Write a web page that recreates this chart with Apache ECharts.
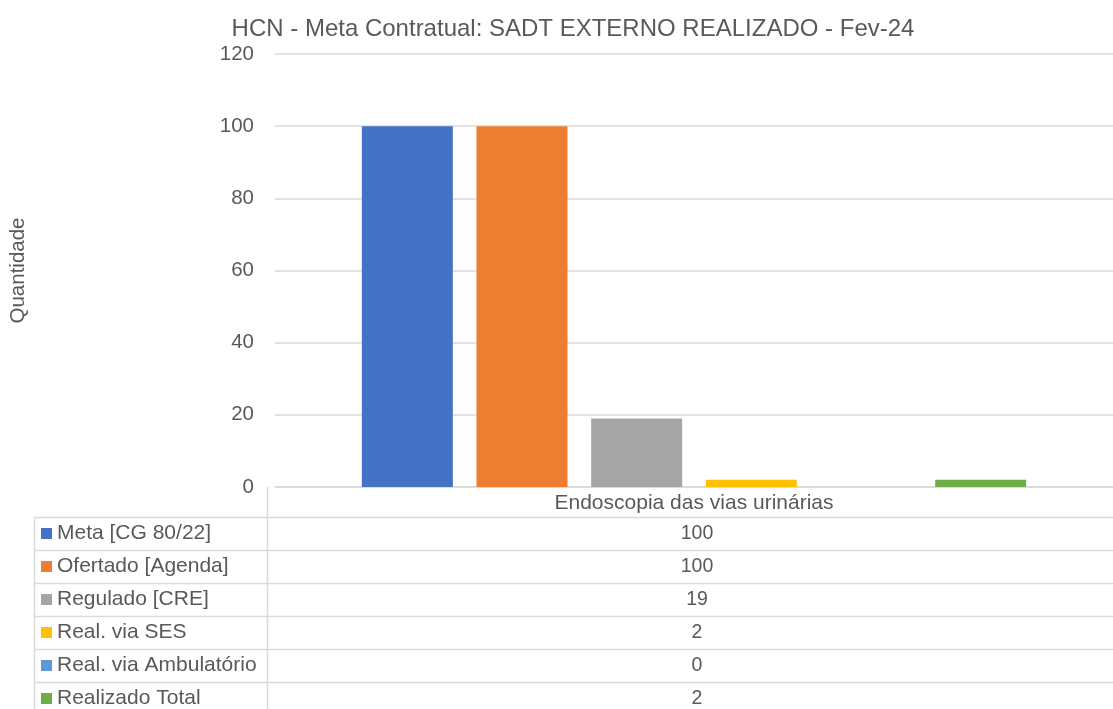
<!DOCTYPE html>
<html>
<head>
<meta charset="utf-8">
<script src="https://cdn.jsdelivr.net/npm/echarts@6/dist/echarts.min.js"></script>
<style>
  html, body { margin: 0; padding: 0; background: #fff; }
  #chart { width: 1113px; height: 709px; }
</style>
</head>
<body>
<div id="chart"></div>
<script>
// dados do gráfico
const categories = ['Endoscopia das vias urinárias'];
const seriesNames = ['Meta [CG 80/22]', 'Ofertado [Agenda]', 'Regulado [CRE]', 'Real. via SES', 'Real. via Ambulatório', 'Realizado Total'];
const meta = [100];
const ofertado = [100];
const regulado = [19];
const realSES = [2];
const realAmbulatorio = [0];
const realizadoTotal = [2];
const colors = ['#4472C4', '#ED7D31', '#A5A5A5', '#FFC000', '#5B9BD5', '#70AD47'];

const allValues = [meta, ofertado, regulado, realSES, realAmbulatorio, realizadoTotal];

const FONT = '"Liberation Sans", Arial, sans-serif';
const TXT = '#595959';
const LINE = '#d9d9d9';

// layout da tabela (abaixo do eixo)
const plotLeft = 268, plotRight = 1134, axisY = 487;
const tableLeft = 34, headerBottom = 517, rowH = 33;

const chart = echarts.init(document.getElementById('chart'));

function buildTable() {
  var els = [];
  var bottom = headerBottom + rowH * seriesNames.length;
  // linhas horizontais
  for (var i = 0; i <= seriesNames.length; i++) {
    var y = headerBottom + rowH * i + 0.5;
    els.push({ type: 'line', shape: { x1: tableLeft, y1: y, x2: plotRight, y2: y }, style: { stroke: LINE, lineWidth: 1.5 }, silent: true });
  }
  // linhas verticais
  els.push({ type: 'line', shape: { x1: tableLeft + 0.5, y1: headerBottom, x2: tableLeft + 0.5, y2: bottom }, style: { stroke: LINE, lineWidth: 1.5 } });
  els.push({ type: 'line', shape: { x1: plotLeft - 0.5, y1: axisY, x2: plotLeft - 0.5, y2: bottom }, style: { stroke: LINE, lineWidth: 1.5 } });

  var cx = 697;
  seriesNames.forEach(function (name, i) {
    var cy = headerBottom + rowH * i + rowH / 2;
    els.push({ type: 'rect', shape: { x: 41, y: cy - 5.5, width: 11, height: 11 }, style: { fill: colors[i] } });
    els.push({ type: 'text', x: 57, y: cy, style: { text: name, font: '21px ' + FONT, fill: TXT, verticalAlign: 'middle', align: 'left' } });
    els.push({ type: 'text', x: cx, y: cy, style: { text: String(allValues[i][0]), font: '19.5px ' + FONT, fill: TXT, verticalAlign: 'middle', align: 'center' } });
  });
  return els;
}

var option = {
  animation: false,
  title: {
    text: 'HCN - Meta Contratual: SADT EXTERNO REALIZADO - Fev-24',
    left: 568, top: 12, textAlign: 'center',
    textStyle: { fontFamily: FONT, fontSize: 24, fontWeight: 'normal', color: TXT }
  },
  grid: { left: plotLeft, top: 54, width: plotRight - plotLeft, height: axisY - 54, containLabel: false },
  xAxis: {
    type: 'category',
    data: categories,
    axisLine: { lineStyle: { color: LINE, width: 1.5 } },
    axisTick: { show: false },
    axisLabel: { fontFamily: FONT, fontSize: 21, color: TXT, margin: 6 }
  },
  yAxis: {
    type: 'value',
    min: 0, max: 120, interval: 20,
    name: 'Quantidade',
    nameLocation: 'middle',
    nameRotate: 90,
    nameGap: 246,
    nameTextStyle: { fontFamily: FONT, fontSize: 20.5, color: TXT },
    axisLine: { show: false },
    axisTick: { show: false },
    axisLabel: { fontFamily: FONT, fontSize: 20.5, color: TXT, margin: 21 },
    splitLine: { lineStyle: { color: LINE, width: 1.5 } }
  },
  series: seriesNames.map(function (name, i) {
    return {
      name: name,
      type: 'bar',
      data: allValues[i],
      barWidth: 91,
      barGap: '26%',
      itemStyle: { color: colors[i] }
    };
  }),
  graphic: buildTable()
};

chart.setOption(option);
</script>
</body>
</html>
